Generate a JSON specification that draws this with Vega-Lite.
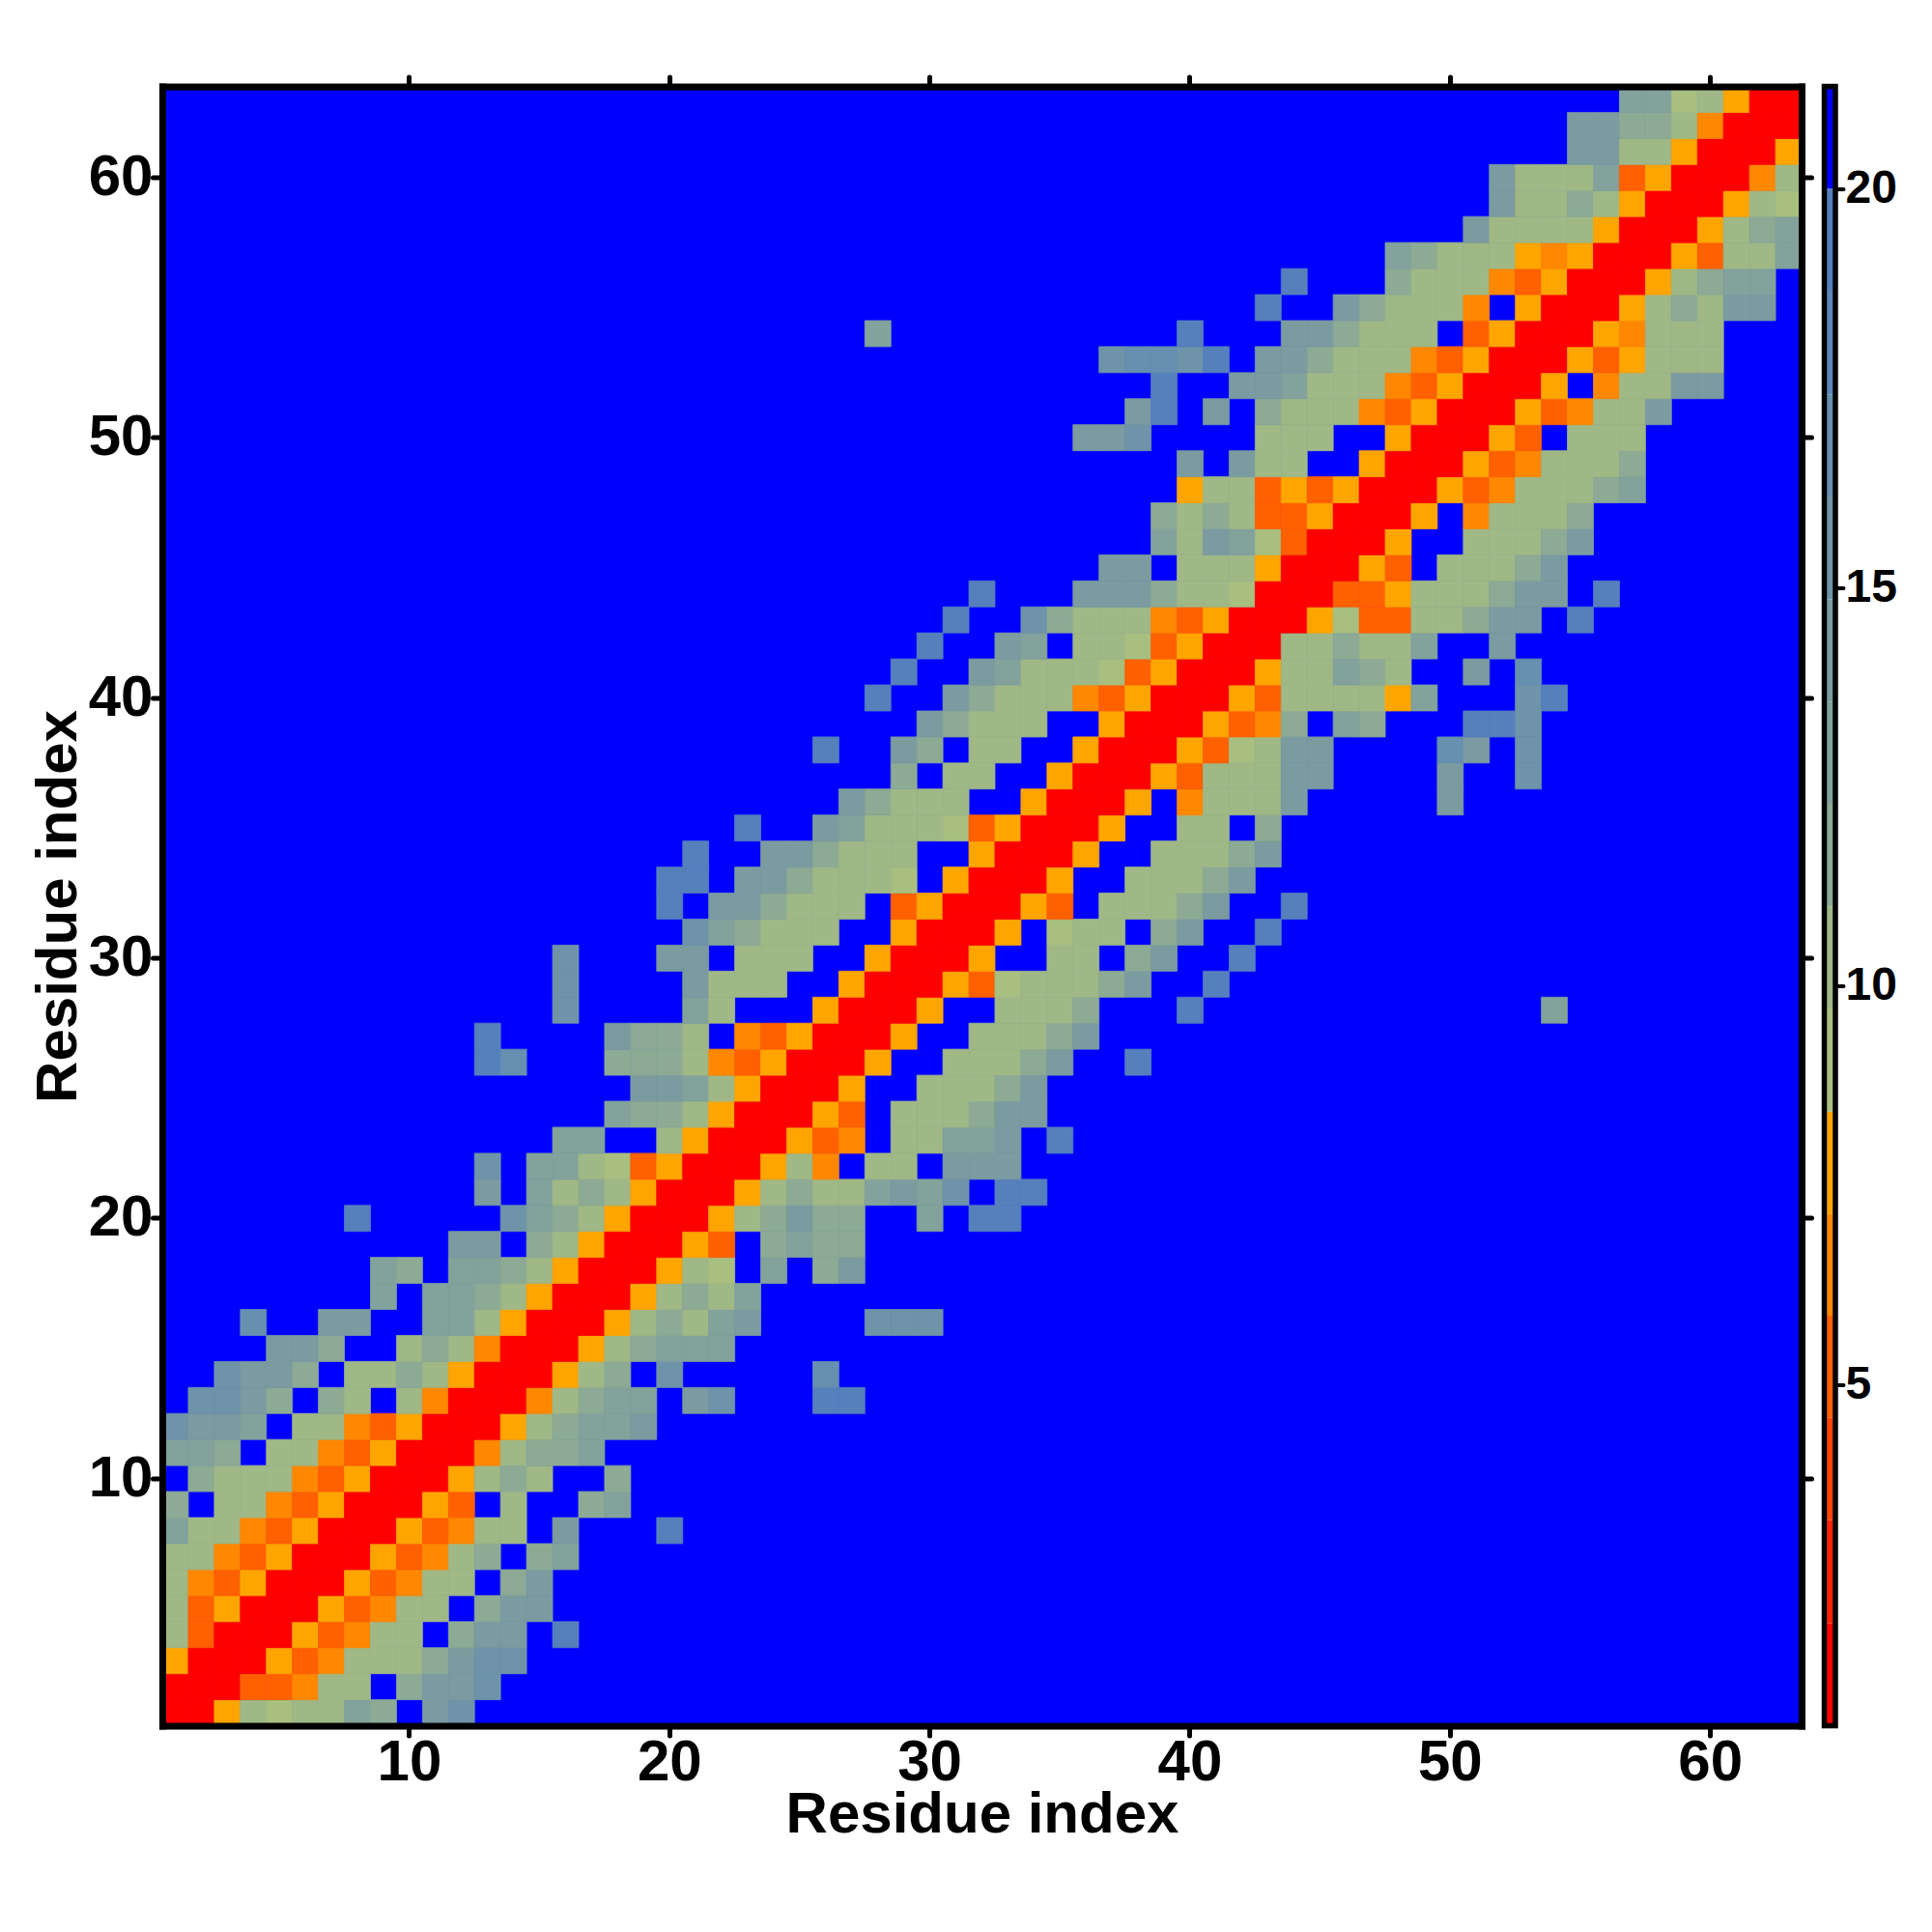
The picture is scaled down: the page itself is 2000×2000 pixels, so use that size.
{"$schema":"https://vega.github.io/schema/vega-lite/v6.json","background":"white","padding":{"left":30,"top":76.5,"right":10,"bottom":10},"bounds":"flush","spacing":23.5,"config":{"font":"Liberation Sans","axis":{"grid":false,"labelFont":"Liberation Sans","titleFont":"Liberation Sans","labelFontWeight":"bold","titleFontWeight":"bold","labelColor":"black","titleColor":"black","domainColor":"black","tickColor":"black","tickCap":"round","domainCap":"square"}},"hconcat":[{"width":1697,"height":1697,"view":{"fill":"#0000FF","stroke":null},"resolve":{"axis":{"x":"independent","y":"independent"}},"layer":[{"mark":{"type":"rect","strokeWidth":0.8},"data":{"values":[
{"i":1,"j":1,"d":2},{"i":2,"j":1,"d":2},{"i":3,"j":1,"d":8},{"i":4,"j":1,"d":10},{"i":5,"j":1,"d":9},{"i":6,"j":1,"d":10},{"i":7,"j":1,"d":10},{"i":8,"j":1,"d":13},{"i":9,"j":1,"d":12},{"i":11,"j":1,"d":14},{"i":12,"j":1,"d":15},
{"i":1,"j":2,"d":2},{"i":2,"j":2,"d":2},{"i":3,"j":2,"d":2},{"i":4,"j":2,"d":5},{"i":5,"j":2,"d":5},{"i":6,"j":2,"d":6},{"i":7,"j":2,"d":10},{"i":8,"j":2,"d":10},{"i":10,"j":2,"d":12},{"i":11,"j":2,"d":14},{"i":12,"j":2,"d":14},{"i":13,"j":2,"d":15},
{"i":1,"j":3,"d":8},{"i":2,"j":3,"d":2},{"i":3,"j":3,"d":2},{"i":4,"j":3,"d":2},{"i":5,"j":3,"d":8},{"i":6,"j":3,"d":5},{"i":7,"j":3,"d":6},{"i":8,"j":3,"d":10},{"i":9,"j":3,"d":10},{"i":10,"j":3,"d":10},{"i":11,"j":3,"d":12},{"i":12,"j":3,"d":14},{"i":13,"j":3,"d":15},{"i":14,"j":3,"d":15},
{"i":1,"j":4,"d":10},{"i":2,"j":4,"d":5},{"i":3,"j":4,"d":2},{"i":4,"j":4,"d":2},{"i":5,"j":4,"d":2},{"i":6,"j":4,"d":8},{"i":7,"j":4,"d":5},{"i":8,"j":4,"d":6},{"i":9,"j":4,"d":10},{"i":10,"j":4,"d":10},{"i":12,"j":4,"d":12},{"i":13,"j":4,"d":14},{"i":14,"j":4,"d":14},{"i":16,"j":4,"d":19},
{"i":1,"j":5,"d":10},{"i":2,"j":5,"d":5},{"i":3,"j":5,"d":8},{"i":4,"j":5,"d":2},{"i":5,"j":5,"d":2},{"i":6,"j":5,"d":2},{"i":7,"j":5,"d":8},{"i":8,"j":5,"d":5},{"i":9,"j":5,"d":6},{"i":10,"j":5,"d":10},{"i":11,"j":5,"d":10},{"i":13,"j":5,"d":12},{"i":14,"j":5,"d":14},{"i":15,"j":5,"d":14},
{"i":1,"j":6,"d":10},{"i":2,"j":6,"d":6},{"i":3,"j":6,"d":5},{"i":4,"j":6,"d":8},{"i":5,"j":6,"d":2},{"i":6,"j":6,"d":2},{"i":7,"j":6,"d":2},{"i":8,"j":6,"d":8},{"i":9,"j":6,"d":5},{"i":10,"j":6,"d":6},{"i":11,"j":6,"d":10},{"i":12,"j":6,"d":10},{"i":14,"j":6,"d":12},{"i":15,"j":6,"d":14},
{"i":1,"j":7,"d":10},{"i":2,"j":7,"d":10},{"i":3,"j":7,"d":6},{"i":4,"j":7,"d":5},{"i":5,"j":7,"d":8},{"i":6,"j":7,"d":2},{"i":7,"j":7,"d":2},{"i":8,"j":7,"d":2},{"i":9,"j":7,"d":8},{"i":10,"j":7,"d":5},{"i":11,"j":7,"d":6},{"i":12,"j":7,"d":10},{"i":13,"j":7,"d":12},{"i":15,"j":7,"d":12},{"i":16,"j":7,"d":13},
{"i":1,"j":8,"d":13},{"i":2,"j":8,"d":10},{"i":3,"j":8,"d":10},{"i":4,"j":8,"d":6},{"i":5,"j":8,"d":5},{"i":6,"j":8,"d":8},{"i":7,"j":8,"d":2},{"i":8,"j":8,"d":2},{"i":9,"j":8,"d":2},{"i":10,"j":8,"d":8},{"i":11,"j":8,"d":5},{"i":12,"j":8,"d":6},{"i":13,"j":8,"d":10},{"i":14,"j":8,"d":10},{"i":16,"j":8,"d":14},{"i":20,"j":8,"d":19},
{"i":1,"j":9,"d":12},{"i":3,"j":9,"d":10},{"i":4,"j":9,"d":10},{"i":5,"j":9,"d":6},{"i":6,"j":9,"d":5},{"i":7,"j":9,"d":8},{"i":8,"j":9,"d":2},{"i":9,"j":9,"d":2},{"i":10,"j":9,"d":2},{"i":11,"j":9,"d":8},{"i":12,"j":9,"d":5},{"i":14,"j":9,"d":10},{"i":17,"j":9,"d":12},{"i":18,"j":9,"d":13},
{"i":2,"j":10,"d":12},{"i":3,"j":10,"d":10},{"i":4,"j":10,"d":10},{"i":5,"j":10,"d":10},{"i":6,"j":10,"d":6},{"i":7,"j":10,"d":5},{"i":8,"j":10,"d":8},{"i":9,"j":10,"d":2},{"i":10,"j":10,"d":2},{"i":11,"j":10,"d":2},{"i":12,"j":10,"d":8},{"i":13,"j":10,"d":10},{"i":14,"j":10,"d":12},{"i":15,"j":10,"d":10},{"i":18,"j":10,"d":12},
{"i":1,"j":11,"d":13},{"i":2,"j":11,"d":13},{"i":3,"j":11,"d":12},{"i":5,"j":11,"d":10},{"i":6,"j":11,"d":10},{"i":7,"j":11,"d":6},{"i":8,"j":11,"d":5},{"i":9,"j":11,"d":8},{"i":10,"j":11,"d":2},{"i":11,"j":11,"d":2},{"i":12,"j":11,"d":2},{"i":13,"j":11,"d":6},{"i":14,"j":11,"d":10},{"i":15,"j":11,"d":12},{"i":16,"j":11,"d":12},{"i":17,"j":11,"d":13},
{"i":1,"j":12,"d":15},{"i":2,"j":12,"d":14},{"i":3,"j":12,"d":14},{"i":4,"j":12,"d":13},{"i":6,"j":12,"d":10},{"i":7,"j":12,"d":10},{"i":8,"j":12,"d":6},{"i":9,"j":12,"d":5},{"i":10,"j":12,"d":8},{"i":11,"j":12,"d":2},{"i":12,"j":12,"d":2},{"i":13,"j":12,"d":2},{"i":14,"j":12,"d":8},{"i":15,"j":12,"d":10},{"i":16,"j":12,"d":12},{"i":17,"j":12,"d":13},{"i":18,"j":12,"d":13},{"i":19,"j":12,"d":14},
{"i":2,"j":13,"d":15},{"i":3,"j":13,"d":15},{"i":4,"j":13,"d":14},{"i":5,"j":13,"d":12},{"i":7,"j":13,"d":12},{"i":8,"j":13,"d":10},{"i":10,"j":13,"d":10},{"i":11,"j":13,"d":6},{"i":12,"j":13,"d":2},{"i":13,"j":13,"d":2},{"i":14,"j":13,"d":2},{"i":15,"j":13,"d":6},{"i":16,"j":13,"d":10},{"i":17,"j":13,"d":12},{"i":18,"j":13,"d":13},{"i":19,"j":13,"d":13},{"i":21,"j":13,"d":14},{"i":22,"j":13,"d":15},{"i":26,"j":13,"d":19},{"i":27,"j":13,"d":19},
{"i":3,"j":14,"d":15},{"i":4,"j":14,"d":14},{"i":5,"j":14,"d":14},{"i":6,"j":14,"d":12},{"i":8,"j":14,"d":10},{"i":9,"j":14,"d":10},{"i":10,"j":14,"d":12},{"i":11,"j":14,"d":10},{"i":12,"j":14,"d":8},{"i":13,"j":14,"d":2},{"i":14,"j":14,"d":2},{"i":15,"j":14,"d":2},{"i":16,"j":14,"d":8},{"i":17,"j":14,"d":10},{"i":18,"j":14,"d":12},{"i":20,"j":14,"d":15},{"i":26,"j":14,"d":17},
{"i":5,"j":15,"d":14},{"i":6,"j":15,"d":14},{"i":7,"j":15,"d":12},{"i":10,"j":15,"d":10},{"i":11,"j":15,"d":12},{"i":12,"j":15,"d":10},{"i":13,"j":15,"d":6},{"i":14,"j":15,"d":2},{"i":15,"j":15,"d":2},{"i":16,"j":15,"d":2},{"i":17,"j":15,"d":8},{"i":18,"j":15,"d":10},{"i":19,"j":15,"d":12},{"i":20,"j":15,"d":13},{"i":21,"j":15,"d":13},{"i":22,"j":15,"d":13},
{"i":4,"j":16,"d":17},{"i":7,"j":16,"d":14},{"i":8,"j":16,"d":14},{"i":11,"j":16,"d":13},{"i":12,"j":16,"d":13},{"i":13,"j":16,"d":10},{"i":14,"j":16,"d":8},{"i":15,"j":16,"d":2},{"i":16,"j":16,"d":2},{"i":17,"j":16,"d":2},{"i":18,"j":16,"d":8},{"i":19,"j":16,"d":10},{"i":20,"j":16,"d":12},{"i":21,"j":16,"d":10},{"i":22,"j":16,"d":13},{"i":23,"j":16,"d":14},{"i":28,"j":16,"d":15},{"i":29,"j":16,"d":15},{"i":30,"j":16,"d":15},
{"i":9,"j":17,"d":13},{"i":11,"j":17,"d":13},{"i":12,"j":17,"d":13},{"i":13,"j":17,"d":12},{"i":14,"j":17,"d":10},{"i":15,"j":17,"d":8},{"i":16,"j":17,"d":2},{"i":17,"j":17,"d":2},{"i":18,"j":17,"d":2},{"i":19,"j":17,"d":8},{"i":20,"j":17,"d":10},{"i":21,"j":17,"d":12},{"i":22,"j":17,"d":10},{"i":23,"j":17,"d":13},
{"i":9,"j":18,"d":13},{"i":10,"j":18,"d":12},{"i":12,"j":18,"d":13},{"i":13,"j":18,"d":13},{"i":14,"j":18,"d":12},{"i":15,"j":18,"d":10},{"i":16,"j":18,"d":8},{"i":17,"j":18,"d":2},{"i":18,"j":18,"d":2},{"i":19,"j":18,"d":2},{"i":20,"j":18,"d":8},{"i":21,"j":18,"d":10},{"i":22,"j":18,"d":9},{"i":24,"j":18,"d":13},{"i":26,"j":18,"d":12},{"i":27,"j":18,"d":14},
{"i":12,"j":19,"d":14},{"i":13,"j":19,"d":14},{"i":15,"j":19,"d":12},{"i":16,"j":19,"d":10},{"i":17,"j":19,"d":8},{"i":18,"j":19,"d":2},{"i":19,"j":19,"d":2},{"i":20,"j":19,"d":2},{"i":21,"j":19,"d":8},{"i":22,"j":19,"d":5},{"i":24,"j":19,"d":12},{"i":25,"j":19,"d":13},{"i":26,"j":19,"d":12},{"i":27,"j":19,"d":12},
{"i":8,"j":20,"d":19},{"i":14,"j":20,"d":15},{"i":15,"j":20,"d":13},{"i":16,"j":20,"d":12},{"i":17,"j":20,"d":10},{"i":18,"j":20,"d":8},{"i":19,"j":20,"d":2},{"i":20,"j":20,"d":2},{"i":21,"j":20,"d":2},{"i":22,"j":20,"d":8},{"i":23,"j":20,"d":10},{"i":24,"j":20,"d":12},{"i":25,"j":20,"d":14},{"i":26,"j":20,"d":12},{"i":27,"j":20,"d":12},{"i":30,"j":20,"d":13},{"i":32,"j":20,"d":19},{"i":33,"j":20,"d":19},
{"i":13,"j":21,"d":14},{"i":15,"j":21,"d":13},{"i":16,"j":21,"d":10},{"i":17,"j":21,"d":12},{"i":18,"j":21,"d":10},{"i":19,"j":21,"d":8},{"i":20,"j":21,"d":2},{"i":21,"j":21,"d":2},{"i":22,"j":21,"d":2},{"i":23,"j":21,"d":8},{"i":24,"j":21,"d":10},{"i":25,"j":21,"d":12},{"i":26,"j":21,"d":10},{"i":27,"j":21,"d":10},{"i":28,"j":21,"d":13},{"i":29,"j":21,"d":14},{"i":30,"j":21,"d":13},{"i":31,"j":21,"d":15},{"i":33,"j":21,"d":19},{"i":34,"j":21,"d":19},
{"i":13,"j":22,"d":15},{"i":15,"j":22,"d":13},{"i":16,"j":22,"d":13},{"i":17,"j":22,"d":10},{"i":18,"j":22,"d":9},{"i":19,"j":22,"d":5},{"i":20,"j":22,"d":8},{"i":21,"j":22,"d":2},{"i":22,"j":22,"d":2},{"i":23,"j":22,"d":2},{"i":24,"j":22,"d":8},{"i":25,"j":22,"d":10},{"i":26,"j":22,"d":6},{"i":28,"j":22,"d":10},{"i":29,"j":22,"d":10},{"i":31,"j":22,"d":14},{"i":32,"j":22,"d":14},{"i":33,"j":22,"d":14},
{"i":16,"j":23,"d":13},{"i":17,"j":23,"d":13},{"i":20,"j":23,"d":10},{"i":21,"j":23,"d":8},{"i":22,"j":23,"d":2},{"i":23,"j":23,"d":2},{"i":24,"j":23,"d":2},{"i":25,"j":23,"d":8},{"i":26,"j":23,"d":5},{"i":27,"j":23,"d":6},{"i":29,"j":23,"d":10},{"i":30,"j":23,"d":10},{"i":31,"j":23,"d":13},{"i":32,"j":23,"d":13},{"i":33,"j":23,"d":14},{"i":35,"j":23,"d":19},
{"i":18,"j":24,"d":13},{"i":19,"j":24,"d":12},{"i":20,"j":24,"d":12},{"i":21,"j":24,"d":10},{"i":22,"j":24,"d":8},{"i":23,"j":24,"d":2},{"i":24,"j":24,"d":2},{"i":25,"j":24,"d":2},{"i":26,"j":24,"d":8},{"i":27,"j":24,"d":5},{"i":29,"j":24,"d":10},{"i":30,"j":24,"d":10},{"i":31,"j":24,"d":10},{"i":32,"j":24,"d":12},{"i":33,"j":24,"d":14},{"i":34,"j":24,"d":14},
{"i":19,"j":25,"d":14},{"i":20,"j":25,"d":14},{"i":21,"j":25,"d":13},{"i":22,"j":25,"d":10},{"i":23,"j":25,"d":8},{"i":24,"j":25,"d":2},{"i":25,"j":25,"d":2},{"i":26,"j":25,"d":2},{"i":27,"j":25,"d":8},{"i":30,"j":25,"d":10},{"i":31,"j":25,"d":10},{"i":32,"j":25,"d":10},{"i":33,"j":25,"d":12},{"i":34,"j":25,"d":14},
{"i":13,"j":26,"d":19},{"i":14,"j":26,"d":17},{"i":18,"j":26,"d":12},{"i":19,"j":26,"d":12},{"i":20,"j":26,"d":12},{"i":21,"j":26,"d":10},{"i":22,"j":26,"d":6},{"i":23,"j":26,"d":5},{"i":24,"j":26,"d":8},{"i":25,"j":26,"d":2},{"i":26,"j":26,"d":2},{"i":27,"j":26,"d":2},{"i":28,"j":26,"d":8},{"i":31,"j":26,"d":10},{"i":32,"j":26,"d":10},{"i":33,"j":26,"d":10},{"i":34,"j":26,"d":12},{"i":35,"j":26,"d":14},{"i":38,"j":26,"d":19},
{"i":13,"j":27,"d":19},{"i":18,"j":27,"d":14},{"i":19,"j":27,"d":12},{"i":20,"j":27,"d":12},{"i":21,"j":27,"d":10},{"i":23,"j":27,"d":6},{"i":24,"j":27,"d":5},{"i":25,"j":27,"d":8},{"i":26,"j":27,"d":2},{"i":27,"j":27,"d":2},{"i":28,"j":27,"d":2},{"i":29,"j":27,"d":8},{"i":32,"j":27,"d":10},{"i":33,"j":27,"d":10},{"i":34,"j":27,"d":10},{"i":35,"j":27,"d":12},{"i":36,"j":27,"d":14},
{"i":16,"j":28,"d":15},{"i":21,"j":28,"d":13},{"i":22,"j":28,"d":10},{"i":26,"j":28,"d":8},{"i":27,"j":28,"d":2},{"i":28,"j":28,"d":2},{"i":29,"j":28,"d":2},{"i":30,"j":28,"d":8},{"i":33,"j":28,"d":10},{"i":34,"j":28,"d":10},{"i":35,"j":28,"d":10},{"i":36,"j":28,"d":12},{"i":40,"j":28,"d":19},{"i":54,"j":28,"d":13},
{"i":16,"j":29,"d":15},{"i":21,"j":29,"d":14},{"i":22,"j":29,"d":10},{"i":23,"j":29,"d":10},{"i":24,"j":29,"d":10},{"i":27,"j":29,"d":8},{"i":28,"j":29,"d":2},{"i":29,"j":29,"d":2},{"i":30,"j":29,"d":2},{"i":31,"j":29,"d":8},{"i":32,"j":29,"d":5},{"i":33,"j":29,"d":9},{"i":34,"j":29,"d":10},{"i":35,"j":29,"d":10},{"i":36,"j":29,"d":10},{"i":37,"j":29,"d":12},{"i":38,"j":29,"d":14},{"i":41,"j":29,"d":19},
{"i":16,"j":30,"d":15},{"i":20,"j":30,"d":14},{"i":21,"j":30,"d":14},{"i":23,"j":30,"d":10},{"i":24,"j":30,"d":10},{"i":25,"j":30,"d":10},{"i":28,"j":30,"d":8},{"i":29,"j":30,"d":2},{"i":30,"j":30,"d":2},{"i":31,"j":30,"d":2},{"i":32,"j":30,"d":8},{"i":35,"j":30,"d":10},{"i":36,"j":30,"d":10},{"i":38,"j":30,"d":12},{"i":39,"j":30,"d":14},{"i":42,"j":30,"d":19},
{"i":21,"j":31,"d":15},{"i":22,"j":31,"d":13},{"i":23,"j":31,"d":12},{"i":24,"j":31,"d":10},{"i":25,"j":31,"d":10},{"i":26,"j":31,"d":10},{"i":29,"j":31,"d":8},{"i":30,"j":31,"d":2},{"i":31,"j":31,"d":2},{"i":32,"j":31,"d":2},{"i":33,"j":31,"d":8},{"i":35,"j":31,"d":9},{"i":36,"j":31,"d":10},{"i":37,"j":31,"d":10},{"i":39,"j":31,"d":12},{"i":40,"j":31,"d":14},{"i":43,"j":31,"d":19},
{"i":20,"j":32,"d":19},{"i":22,"j":32,"d":14},{"i":23,"j":32,"d":14},{"i":24,"j":32,"d":12},{"i":25,"j":32,"d":10},{"i":26,"j":32,"d":10},{"i":27,"j":32,"d":10},{"i":29,"j":32,"d":5},{"i":30,"j":32,"d":8},{"i":31,"j":32,"d":2},{"i":32,"j":32,"d":2},{"i":33,"j":32,"d":2},{"i":34,"j":32,"d":8},{"i":35,"j":32,"d":5},{"i":37,"j":32,"d":10},{"i":38,"j":32,"d":10},{"i":39,"j":32,"d":10},{"i":40,"j":32,"d":12},{"i":41,"j":32,"d":14},{"i":44,"j":32,"d":19},
{"i":20,"j":33,"d":19},{"i":21,"j":33,"d":19},{"i":23,"j":33,"d":14},{"i":24,"j":33,"d":14},{"i":25,"j":33,"d":12},{"i":26,"j":33,"d":10},{"i":27,"j":33,"d":10},{"i":28,"j":33,"d":10},{"i":29,"j":33,"d":9},{"i":31,"j":33,"d":8},{"i":32,"j":33,"d":2},{"i":33,"j":33,"d":2},{"i":34,"j":33,"d":2},{"i":35,"j":33,"d":8},{"i":38,"j":33,"d":10},{"i":39,"j":33,"d":10},{"i":40,"j":33,"d":10},{"i":41,"j":33,"d":12},{"i":42,"j":33,"d":14},
{"i":21,"j":34,"d":19},{"i":24,"j":34,"d":14},{"i":25,"j":34,"d":14},{"i":26,"j":34,"d":12},{"i":27,"j":34,"d":10},{"i":28,"j":34,"d":10},{"i":29,"j":34,"d":10},{"i":32,"j":34,"d":8},{"i":33,"j":34,"d":2},{"i":34,"j":34,"d":2},{"i":35,"j":34,"d":2},{"i":36,"j":34,"d":8},{"i":39,"j":34,"d":10},{"i":40,"j":34,"d":10},{"i":41,"j":34,"d":10},{"i":42,"j":34,"d":12},{"i":43,"j":34,"d":14},
{"i":23,"j":35,"d":19},{"i":26,"j":35,"d":14},{"i":27,"j":35,"d":13},{"i":28,"j":35,"d":10},{"i":29,"j":35,"d":10},{"i":30,"j":35,"d":10},{"i":31,"j":35,"d":9},{"i":32,"j":35,"d":5},{"i":33,"j":35,"d":8},{"i":34,"j":35,"d":2},{"i":35,"j":35,"d":2},{"i":36,"j":35,"d":2},{"i":37,"j":35,"d":8},{"i":40,"j":35,"d":10},{"i":41,"j":35,"d":10},{"i":43,"j":35,"d":12},
{"i":27,"j":36,"d":14},{"i":28,"j":36,"d":12},{"i":29,"j":36,"d":10},{"i":30,"j":36,"d":10},{"i":31,"j":36,"d":10},{"i":34,"j":36,"d":8},{"i":35,"j":36,"d":2},{"i":36,"j":36,"d":2},{"i":37,"j":36,"d":2},{"i":38,"j":36,"d":8},{"i":40,"j":36,"d":6},{"i":41,"j":36,"d":10},{"i":42,"j":36,"d":10},{"i":43,"j":36,"d":10},{"i":44,"j":36,"d":14},{"i":50,"j":36,"d":14},
{"i":29,"j":37,"d":12},{"i":31,"j":37,"d":10},{"i":32,"j":37,"d":10},{"i":35,"j":37,"d":8},{"i":36,"j":37,"d":2},{"i":37,"j":37,"d":2},{"i":38,"j":37,"d":2},{"i":39,"j":37,"d":8},{"i":40,"j":37,"d":5},{"i":41,"j":37,"d":10},{"i":42,"j":37,"d":10},{"i":43,"j":37,"d":10},{"i":44,"j":37,"d":14},{"i":45,"j":37,"d":14},{"i":50,"j":37,"d":14},{"i":53,"j":37,"d":15},
{"i":26,"j":38,"d":19},{"i":29,"j":38,"d":14},{"i":30,"j":38,"d":12},{"i":32,"j":38,"d":10},{"i":33,"j":38,"d":10},{"i":36,"j":38,"d":8},{"i":37,"j":38,"d":2},{"i":38,"j":38,"d":2},{"i":39,"j":38,"d":2},{"i":40,"j":38,"d":8},{"i":41,"j":38,"d":5},{"i":42,"j":38,"d":9},{"i":43,"j":38,"d":10},{"i":44,"j":38,"d":14},{"i":45,"j":38,"d":14},{"i":50,"j":38,"d":17},{"i":51,"j":38,"d":14},{"i":53,"j":38,"d":15},
{"i":30,"j":39,"d":14},{"i":31,"j":39,"d":12},{"i":32,"j":39,"d":10},{"i":33,"j":39,"d":10},{"i":34,"j":39,"d":10},{"i":37,"j":39,"d":8},{"i":38,"j":39,"d":2},{"i":39,"j":39,"d":2},{"i":40,"j":39,"d":2},{"i":41,"j":39,"d":8},{"i":42,"j":39,"d":5},{"i":43,"j":39,"d":6},{"i":44,"j":39,"d":12},{"i":46,"j":39,"d":13},{"i":47,"j":39,"d":12},{"i":51,"j":39,"d":19},{"i":52,"j":39,"d":19},{"i":53,"j":39,"d":15},
{"i":28,"j":40,"d":19},{"i":31,"j":40,"d":14},{"i":32,"j":40,"d":12},{"i":33,"j":40,"d":10},{"i":34,"j":40,"d":10},{"i":35,"j":40,"d":10},{"i":36,"j":40,"d":6},{"i":37,"j":40,"d":5},{"i":38,"j":40,"d":8},{"i":39,"j":40,"d":2},{"i":40,"j":40,"d":2},{"i":41,"j":40,"d":2},{"i":42,"j":40,"d":8},{"i":43,"j":40,"d":5},{"i":44,"j":40,"d":10},{"i":45,"j":40,"d":10},{"i":46,"j":40,"d":10},{"i":47,"j":40,"d":10},{"i":48,"j":40,"d":8},{"i":49,"j":40,"d":13},{"i":53,"j":40,"d":15},{"i":54,"j":40,"d":19},
{"i":29,"j":41,"d":19},{"i":32,"j":41,"d":14},{"i":33,"j":41,"d":13},{"i":34,"j":41,"d":10},{"i":35,"j":41,"d":10},{"i":36,"j":41,"d":10},{"i":37,"j":41,"d":9},{"i":38,"j":41,"d":5},{"i":39,"j":41,"d":8},{"i":40,"j":41,"d":2},{"i":41,"j":41,"d":2},{"i":42,"j":41,"d":2},{"i":43,"j":41,"d":8},{"i":44,"j":41,"d":10},{"i":45,"j":41,"d":10},{"i":46,"j":41,"d":13},{"i":47,"j":41,"d":12},{"i":48,"j":41,"d":10},{"i":51,"j":41,"d":14},{"i":53,"j":41,"d":17},
{"i":30,"j":42,"d":19},{"i":33,"j":42,"d":14},{"i":34,"j":42,"d":13},{"i":36,"j":42,"d":10},{"i":37,"j":42,"d":10},{"i":38,"j":42,"d":9},{"i":39,"j":42,"d":5},{"i":40,"j":42,"d":8},{"i":41,"j":42,"d":2},{"i":42,"j":42,"d":2},{"i":43,"j":42,"d":2},{"i":44,"j":42,"d":10},{"i":45,"j":42,"d":10},{"i":46,"j":42,"d":12},{"i":47,"j":42,"d":10},{"i":48,"j":42,"d":10},{"i":49,"j":42,"d":13},{"i":52,"j":42,"d":14},
{"i":31,"j":43,"d":19},{"i":34,"j":43,"d":15},{"i":35,"j":43,"d":12},{"i":36,"j":43,"d":10},{"i":37,"j":43,"d":10},{"i":38,"j":43,"d":10},{"i":39,"j":43,"d":6},{"i":40,"j":43,"d":5},{"i":41,"j":43,"d":8},{"i":42,"j":43,"d":2},{"i":43,"j":43,"d":2},{"i":44,"j":43,"d":2},{"i":45,"j":43,"d":8},{"i":46,"j":43,"d":9},{"i":47,"j":43,"d":5},{"i":48,"j":43,"d":5},{"i":49,"j":43,"d":10},{"i":50,"j":43,"d":10},{"i":51,"j":43,"d":12},{"i":52,"j":43,"d":14},{"i":53,"j":43,"d":14},{"i":55,"j":43,"d":19},
{"i":32,"j":44,"d":19},{"i":36,"j":44,"d":14},{"i":37,"j":44,"d":14},{"i":38,"j":44,"d":14},{"i":39,"j":44,"d":12},{"i":40,"j":44,"d":10},{"i":41,"j":44,"d":10},{"i":42,"j":44,"d":9},{"i":43,"j":44,"d":2},{"i":44,"j":44,"d":2},{"i":45,"j":44,"d":2},{"i":46,"j":44,"d":5},{"i":47,"j":44,"d":5},{"i":48,"j":44,"d":8},{"i":49,"j":44,"d":10},{"i":50,"j":44,"d":10},{"i":51,"j":44,"d":10},{"i":52,"j":44,"d":12},{"i":53,"j":44,"d":14},{"i":54,"j":44,"d":14},{"i":56,"j":44,"d":19},
{"i":37,"j":45,"d":14},{"i":38,"j":45,"d":14},{"i":40,"j":45,"d":10},{"i":41,"j":45,"d":10},{"i":42,"j":45,"d":10},{"i":43,"j":45,"d":8},{"i":44,"j":45,"d":2},{"i":45,"j":45,"d":2},{"i":46,"j":45,"d":2},{"i":47,"j":45,"d":8},{"i":48,"j":45,"d":5},{"i":50,"j":45,"d":10},{"i":51,"j":45,"d":10},{"i":52,"j":45,"d":10},{"i":53,"j":45,"d":12},{"i":54,"j":45,"d":14},
{"i":39,"j":46,"d":13},{"i":40,"j":46,"d":10},{"i":41,"j":46,"d":14},{"i":42,"j":46,"d":13},{"i":43,"j":46,"d":9},{"i":44,"j":46,"d":5},{"i":45,"j":46,"d":2},{"i":46,"j":46,"d":2},{"i":47,"j":46,"d":2},{"i":48,"j":46,"d":8},{"i":51,"j":46,"d":10},{"i":52,"j":46,"d":10},{"i":53,"j":46,"d":10},{"i":54,"j":46,"d":12},{"i":55,"j":46,"d":14},
{"i":39,"j":47,"d":12},{"i":40,"j":47,"d":10},{"i":41,"j":47,"d":12},{"i":42,"j":47,"d":10},{"i":43,"j":47,"d":5},{"i":44,"j":47,"d":5},{"i":45,"j":47,"d":8},{"i":46,"j":47,"d":2},{"i":47,"j":47,"d":2},{"i":48,"j":47,"d":2},{"i":49,"j":47,"d":8},{"i":51,"j":47,"d":6},{"i":52,"j":47,"d":10},{"i":53,"j":47,"d":10},{"i":54,"j":47,"d":10},{"i":55,"j":47,"d":12},
{"i":40,"j":48,"d":8},{"i":41,"j":48,"d":10},{"i":42,"j":48,"d":10},{"i":43,"j":48,"d":5},{"i":44,"j":48,"d":8},{"i":45,"j":48,"d":5},{"i":46,"j":48,"d":8},{"i":47,"j":48,"d":2},{"i":48,"j":48,"d":2},{"i":49,"j":48,"d":2},{"i":50,"j":48,"d":8},{"i":51,"j":48,"d":5},{"i":52,"j":48,"d":6},{"i":53,"j":48,"d":10},{"i":54,"j":48,"d":10},{"i":55,"j":48,"d":10},{"i":56,"j":48,"d":12},{"i":57,"j":48,"d":13},
{"i":40,"j":49,"d":14},{"i":42,"j":49,"d":14},{"i":43,"j":49,"d":10},{"i":44,"j":49,"d":10},{"i":47,"j":49,"d":8},{"i":48,"j":49,"d":2},{"i":49,"j":49,"d":2},{"i":50,"j":49,"d":2},{"i":51,"j":49,"d":8},{"i":52,"j":49,"d":5},{"i":53,"j":49,"d":6},{"i":54,"j":49,"d":10},{"i":55,"j":49,"d":10},{"i":56,"j":49,"d":10},{"i":57,"j":49,"d":12},
{"i":36,"j":50,"d":14},{"i":37,"j":50,"d":14},{"i":38,"j":50,"d":15},{"i":43,"j":50,"d":10},{"i":44,"j":50,"d":10},{"i":45,"j":50,"d":10},{"i":48,"j":50,"d":8},{"i":49,"j":50,"d":2},{"i":50,"j":50,"d":2},{"i":51,"j":50,"d":2},{"i":52,"j":50,"d":8},{"i":53,"j":50,"d":5},{"i":55,"j":50,"d":10},{"i":56,"j":50,"d":10},{"i":57,"j":50,"d":10},
{"i":38,"j":51,"d":14},{"i":39,"j":51,"d":19},{"i":41,"j":51,"d":14},{"i":43,"j":51,"d":12},{"i":44,"j":51,"d":10},{"i":45,"j":51,"d":10},{"i":46,"j":51,"d":10},{"i":47,"j":51,"d":6},{"i":48,"j":51,"d":5},{"i":49,"j":51,"d":8},{"i":50,"j":51,"d":2},{"i":51,"j":51,"d":2},{"i":52,"j":51,"d":2},{"i":53,"j":51,"d":8},{"i":54,"j":51,"d":5},{"i":55,"j":51,"d":6},{"i":56,"j":51,"d":10},{"i":57,"j":51,"d":10},{"i":58,"j":51,"d":14},
{"i":39,"j":52,"d":19},{"i":42,"j":52,"d":14},{"i":43,"j":52,"d":14},{"i":44,"j":52,"d":13},{"i":45,"j":52,"d":10},{"i":46,"j":52,"d":10},{"i":47,"j":52,"d":10},{"i":48,"j":52,"d":6},{"i":49,"j":52,"d":5},{"i":50,"j":52,"d":8},{"i":51,"j":52,"d":2},{"i":52,"j":52,"d":2},{"i":53,"j":52,"d":2},{"i":54,"j":52,"d":8},{"i":56,"j":52,"d":6},{"i":57,"j":52,"d":10},{"i":58,"j":52,"d":10},{"i":59,"j":52,"d":14},{"i":60,"j":52,"d":14},
{"i":37,"j":53,"d":15},{"i":38,"j":53,"d":17},{"i":39,"j":53,"d":17},{"i":40,"j":53,"d":15},{"i":41,"j":53,"d":19},{"i":43,"j":53,"d":14},{"i":44,"j":53,"d":14},{"i":45,"j":53,"d":12},{"i":46,"j":53,"d":10},{"i":47,"j":53,"d":10},{"i":48,"j":53,"d":10},{"i":49,"j":53,"d":6},{"i":50,"j":53,"d":5},{"i":51,"j":53,"d":8},{"i":52,"j":53,"d":2},{"i":53,"j":53,"d":2},{"i":54,"j":53,"d":2},{"i":55,"j":53,"d":8},{"i":56,"j":53,"d":5},{"i":57,"j":53,"d":8},{"i":58,"j":53,"d":10},{"i":59,"j":53,"d":10},{"i":60,"j":53,"d":10},
{"i":28,"j":54,"d":13},{"i":40,"j":54,"d":19},{"i":44,"j":54,"d":14},{"i":45,"j":54,"d":14},{"i":46,"j":54,"d":12},{"i":47,"j":54,"d":10},{"i":48,"j":54,"d":10},{"i":49,"j":54,"d":10},{"i":51,"j":54,"d":5},{"i":52,"j":54,"d":8},{"i":53,"j":54,"d":2},{"i":54,"j":54,"d":2},{"i":55,"j":54,"d":2},{"i":56,"j":54,"d":8},{"i":57,"j":54,"d":6},{"i":58,"j":54,"d":10},{"i":59,"j":54,"d":10},{"i":60,"j":54,"d":10},
{"i":43,"j":55,"d":19},{"i":46,"j":55,"d":14},{"i":47,"j":55,"d":12},{"i":48,"j":55,"d":10},{"i":49,"j":55,"d":10},{"i":50,"j":55,"d":10},{"i":51,"j":55,"d":6},{"i":53,"j":55,"d":8},{"i":54,"j":55,"d":2},{"i":55,"j":55,"d":2},{"i":56,"j":55,"d":2},{"i":57,"j":55,"d":8},{"i":58,"j":55,"d":10},{"i":59,"j":55,"d":12},{"i":60,"j":55,"d":10},{"i":61,"j":55,"d":14},{"i":62,"j":55,"d":14},
{"i":44,"j":56,"d":19},{"i":48,"j":56,"d":12},{"i":49,"j":56,"d":10},{"i":50,"j":56,"d":10},{"i":51,"j":56,"d":10},{"i":52,"j":56,"d":6},{"i":53,"j":56,"d":5},{"i":54,"j":56,"d":8},{"i":55,"j":56,"d":2},{"i":56,"j":56,"d":2},{"i":57,"j":56,"d":2},{"i":58,"j":56,"d":8},{"i":59,"j":56,"d":10},{"i":60,"j":56,"d":12},{"i":61,"j":56,"d":13},{"i":62,"j":56,"d":13},
{"i":48,"j":57,"d":13},{"i":49,"j":57,"d":12},{"i":50,"j":57,"d":10},{"i":51,"j":57,"d":10},{"i":52,"j":57,"d":10},{"i":53,"j":57,"d":8},{"i":54,"j":57,"d":6},{"i":55,"j":57,"d":8},{"i":56,"j":57,"d":2},{"i":57,"j":57,"d":2},{"i":58,"j":57,"d":2},{"i":59,"j":57,"d":8},{"i":60,"j":57,"d":5},{"i":61,"j":57,"d":10},{"i":62,"j":57,"d":10},{"i":63,"j":57,"d":13},
{"i":51,"j":58,"d":14},{"i":52,"j":58,"d":10},{"i":53,"j":58,"d":10},{"i":54,"j":58,"d":10},{"i":55,"j":58,"d":10},{"i":56,"j":58,"d":8},{"i":57,"j":58,"d":2},{"i":58,"j":58,"d":2},{"i":59,"j":58,"d":2},{"i":60,"j":58,"d":8},{"i":61,"j":58,"d":10},{"i":62,"j":58,"d":12},{"i":63,"j":58,"d":13},
{"i":52,"j":59,"d":14},{"i":53,"j":59,"d":10},{"i":54,"j":59,"d":10},{"i":55,"j":59,"d":12},{"i":56,"j":59,"d":10},{"i":57,"j":59,"d":8},{"i":58,"j":59,"d":2},{"i":59,"j":59,"d":2},{"i":60,"j":59,"d":2},{"i":61,"j":59,"d":8},{"i":62,"j":59,"d":10},{"i":63,"j":59,"d":9},
{"i":52,"j":60,"d":14},{"i":53,"j":60,"d":10},{"i":54,"j":60,"d":10},{"i":55,"j":60,"d":10},{"i":56,"j":60,"d":13},{"i":57,"j":60,"d":5},{"i":58,"j":60,"d":8},{"i":59,"j":60,"d":2},{"i":60,"j":60,"d":2},{"i":61,"j":60,"d":2},{"i":62,"j":60,"d":6},{"i":63,"j":60,"d":10},
{"i":55,"j":61,"d":14},{"i":56,"j":61,"d":14},{"i":57,"j":61,"d":10},{"i":58,"j":61,"d":10},{"i":59,"j":61,"d":8},{"i":60,"j":61,"d":2},{"i":61,"j":61,"d":2},{"i":62,"j":61,"d":2},{"i":63,"j":61,"d":8},
{"i":55,"j":62,"d":14},{"i":56,"j":62,"d":14},{"i":57,"j":62,"d":12},{"i":58,"j":62,"d":12},{"i":59,"j":62,"d":10},{"i":60,"j":62,"d":6},{"i":61,"j":62,"d":2},{"i":62,"j":62,"d":2},{"i":63,"j":62,"d":2},
{"i":57,"j":63,"d":13},{"i":58,"j":63,"d":13},{"i":59,"j":63,"d":9},{"i":60,"j":63,"d":10},{"i":61,"j":63,"d":8},{"i":62,"j":63,"d":2},{"i":63,"j":63,"d":2}
]},"encoding":{"x":{"field":"i","type":"ordinal","scale":{"domain":[1,2,3,4,5,6,7,8,9,10,11,12,13,14,15,16,17,18,19,20,21,22,23,24,25,26,27,28,29,30,31,32,33,34,35,36,37,38,39,40,41,42,43,44,45,46,47,48,49,50,51,52,53,54,55,56,57,58,59,60,61,62,63],"padding":0},"axis":{"orient":"bottom","values":[10,20,30,40,50,60],"labelAngle":0,"labelFontSize":60,"labelPadding":-1,"tickSize":10,"tickWidth":5,"domainWidth":7,"zindex":1,"title":"Residue index","titleFontSize":60,"titlePadding":-5}},"y":{"field":"j","type":"ordinal","scale":{"domain":[63,62,61,60,59,58,57,56,55,54,53,52,51,50,49,48,47,46,45,44,43,42,41,40,39,38,37,36,35,34,33,32,31,30,29,28,27,26,25,24,23,22,21,20,19,18,17,16,15,14,13,12,11,10,9,8,7,6,5,4,3,2,1],"padding":0},"axis":{"orient":"left","values":[10,20,30,40,50,60],"labelFontSize":60,"labelPadding":0,"tickSize":10,"tickWidth":5,"domainWidth":7,"zindex":1,"title":"Residue index","titleFontSize":60,"titlePadding":0}},"color":{"field":"d","type":"quantitative","legend":null,"scale":{"type":"threshold","domain":[2.01,3.31,4.59,5.87,7.15,8.43,9.72,11,12.29,13.57,14.85,16.14,17.42,18.72,20],"range":["#FF0000","#FF2200","#FF4400","#FF6000","#FF8800","#FFA500","#A8BF80","#9FB886","#8CAA94","#82A29B","#7B9BA0","#6F93A8","#668FB0","#5B87B8","#5580BC","#0000FF"]}},"stroke":{"field":"d","type":"quantitative","legend":null,"scale":{"type":"threshold","domain":[2.01,3.31,4.59,5.87,7.15,8.43,9.72,11,12.29,13.57,14.85,16.14,17.42,18.72,20],"range":["#FF0000","#FF2200","#FF4400","#FF6000","#FF8800","#FFA500","#A8BF80","#9FB886","#8CAA94","#82A29B","#7B9BA0","#6F93A8","#668FB0","#5B87B8","#5580BC","#0000FF"]}}}},{"mark":{"type":"rect","opacity":0},"data":{"values":[{"i":1,"j":1}]},"encoding":{"x":{"field":"i","type":"ordinal","scale":{"domain":[1,2,3,4,5,6,7,8,9,10,11,12,13,14,15,16,17,18,19,20,21,22,23,24,25,26,27,28,29,30,31,32,33,34,35,36,37,38,39,40,41,42,43,44,45,46,47,48,49,50,51,52,53,54,55,56,57,58,59,60,61,62,63],"padding":0},"axis":{"orient":"top","values":[10,20,30,40,50,60],"labels":false,"title":null,"tickSize":10,"tickWidth":5,"domainWidth":7,"zindex":1}},"y":{"field":"j","type":"ordinal","scale":{"domain":[63,62,61,60,59,58,57,56,55,54,53,52,51,50,49,48,47,46,45,44,43,42,41,40,39,38,37,36,35,34,33,32,31,30,29,28,27,26,25,24,23,22,21,20,19,18,17,16,15,14,13,12,11,10,9,8,7,6,5,4,3,2,1],"padding":0},"axis":{"orient":"right","values":[10,20,30,40,50,60],"labels":false,"title":null,"tickSize":10,"tickWidth":5,"domainWidth":7,"zindex":1}}}}]},{"width":11.5,"height":1697,"view":{"stroke":null},"layer":[{"mark":{"type":"rect","stroke":null},"data":{"values":[{"d":0.73,"h":2.01},{"d":2.01,"h":3.31},{"d":3.31,"h":4.59},{"d":4.59,"h":5.87},{"d":5.87,"h":7.15},{"d":7.15,"h":8.43},{"d":8.43,"h":9.72},{"d":9.72,"h":11},{"d":11,"h":12.29},{"d":12.29,"h":13.57},{"d":13.57,"h":14.85},{"d":14.85,"h":16.14},{"d":16.14,"h":17.42},{"d":17.42,"h":18.72},{"d":18.72,"h":20},{"d":20,"h":21.28}]},"encoding":{"y":{"field":"d","type":"quantitative","scale":{"domain":[0.73,21.28],"nice":false,"zero":false},"axis":{"orient":"right","values":[5,10,15,20],"format":"d","title":null,"domain":false,"labelFontSize":48,"labelPadding":2,"tickSize":8,"tickWidth":4,"zindex":1}},"y2":{"field":"h"},"color":{"field":"d","type":"quantitative","legend":null,"scale":{"type":"threshold","domain":[2.01,3.31,4.59,5.87,7.15,8.43,9.72,11,12.29,13.57,14.85,16.14,17.42,18.72,20],"range":["#FF0000","#FF2200","#FF4400","#FF6000","#FF8800","#FFA500","#A8BF80","#9FB886","#8CAA94","#82A29B","#7B9BA0","#6F93A8","#668FB0","#5B87B8","#5580BC","#0000FF"]}}}},{"mark":{"type":"rect","fill":null,"stroke":"black","strokeWidth":5.5},"data":{"values":[{"d":0.73,"h":21.28}]},"encoding":{"y":{"field":"d","type":"quantitative"},"y2":{"field":"h"}}}]}]}
